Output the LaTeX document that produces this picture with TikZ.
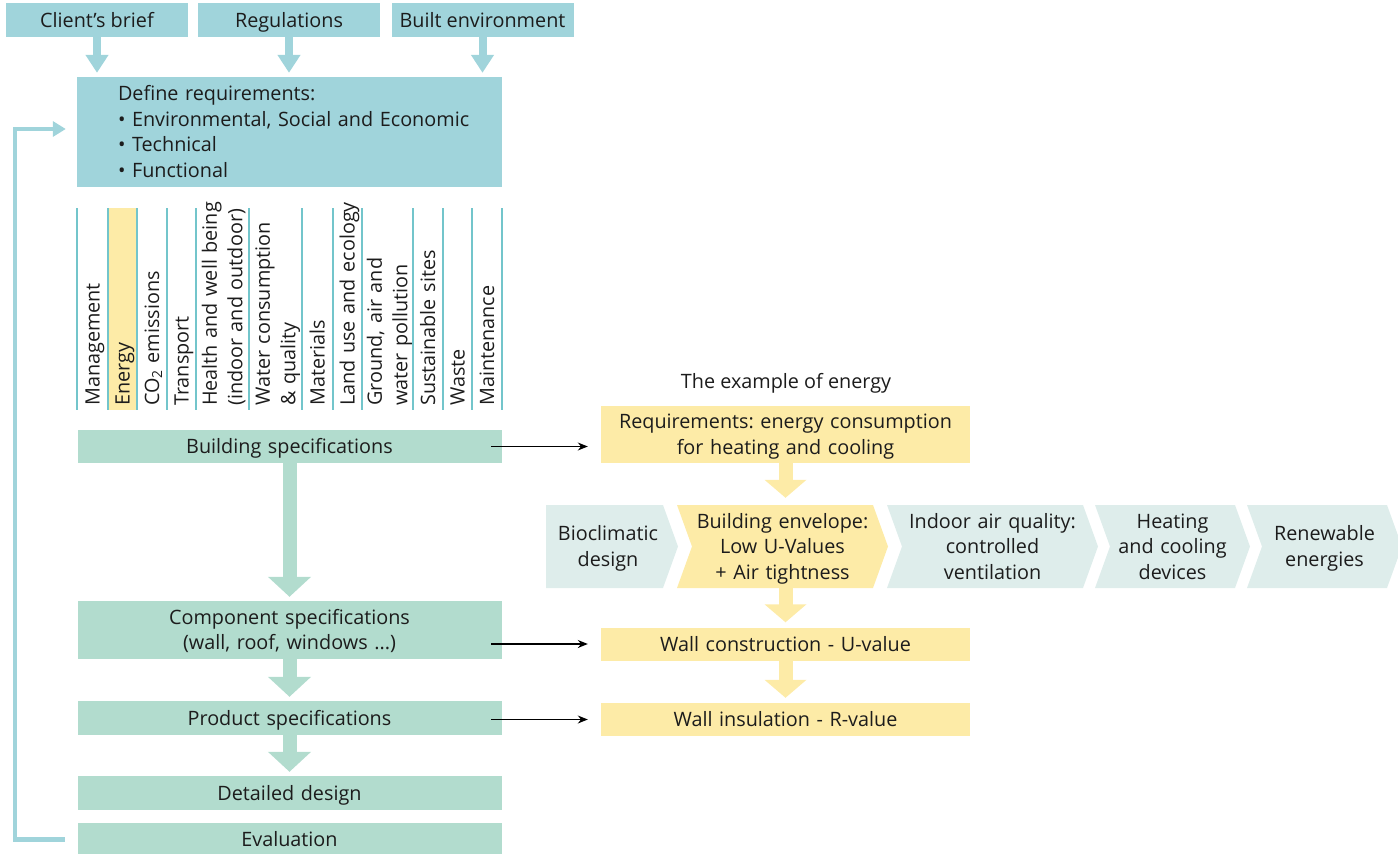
\documentclass[tikz,border=0pt]{standalone}
\usepackage{fontspec}
\setmainfont{Open Sans}
\frenchspacing
\usepackage{tikz}
\usetikzlibrary{arrows.meta}

\definecolor{srcblue}{RGB}{160,212,219}
\definecolor{specgreen}{RGB}{178,220,206}
\definecolor{energyyellow}{RGB}{253,235,167}
\definecolor{chevgrey}{RGB}{222,237,235}
\definecolor{colline}{RGB}{115,197,203}
\definecolor{inktext}{RGB}{28,28,28}

% same height and depth for every first and last line
\newcommand{\lnstrut}{\rule[-5pt]{0pt}{24pt}}

\tikzset{
  every node/.append style={execute at begin node=\lnstrut, execute at end node=\lnstrut},
  srcbox/.style={fill=srcblue, minimum width=182pt, minimum height=34pt, inner sep=0pt},
  specbox/.style={fill=specgreen, text width=424pt, minimum height=33pt, inner sep=0pt, align=center},
  ybox/.style={fill=energyyellow, text width=369pt, minimum height=33pt, inner sep=0pt, align=center},
  chevtext/.style={text width=190pt, align=center, minimum height=83pt, inner sep=0pt},
  collabel/.style={rotate=90, anchor=west, text width=260pt, align=left, inner sep=0pt},
  colrule/.style={draw=colline, line width=1.2pt},
  flowblue/.style={draw=srcblue, line width=8pt, -{Triangle[length=18pt,width=22pt]}},
  flowgreen/.style={draw=specgreen, line width=14pt, -{Triangle[length=20pt,width=42pt]}},
  flowyellow/.style={draw=energyyellow, line width=14pt, -{Triangle[length=18pt,width=41pt]}},
  loopback/.style={draw=srcblue, line width=4.5pt, -{Triangle[length=13pt,width=15pt]}},
  link/.style={draw=black, line width=1.2pt, -{Stealth[length=10pt,width=8pt]}},
}

\begin{document}
\begin{tikzpicture}[x=1pt, y=-1pt, text=inktext, font=\fontsize{19.8}{25.5}\selectfont]
    \useasboundingbox (0,0) rectangle (1398,854);

    % Inputs on top
    \node[srcbox] (brief) at (97,20) {Client's brief};
    \node[srcbox] (regs) at (289,20) {Regulations};
    \node[srcbox] (built) at (482.5,20) {Built environment};

    \node[fill=srcblue, inner xsep=41pt, inner ysep=0pt, text width=343pt, minimum height=110pt, align=left] (req) at (289.5,132)
        {Define requirements:\\\textbullet\ \mbox{Environmental, Social and Economic}\\\textbullet\ Technical\\\textbullet\ Functional};

    \foreach \src in {brief, regs, built}
        \draw[flowblue, shorten >=4pt] (\src.south) -- (\src.south |- req.north);

    % Criteria columns
    \fill[energyyellow] (108,208) rectangle (137,410);
    \foreach \x in {77,108,137,167,196,249,302,333,362,413,443,472,502}
        \draw[colrule] (\x,208) -- (\x,410);
    \foreach \x/\lbl [count=\i] in {92.5/Management, 122.5/Energy, 152/CO\textsubscript{2} emissions,
        181.5/Transport, 222.5/Health and well being\\(indoor and outdoor),
        275.5/Water consumption\\\& quality, 317.5/Materials, 347.5/Land use and ecology,
        387.5/{Ground, air and\\water pollution}, 428/Sustainable sites, 457.5/Waste, 487/Maintenance}
        \node[collabel] (col\i) at (\x,406) {\lbl};

    % Specification chain
    \node[specbox] (bspec) at (289.5,446.5) {Building specifications};
    \node[specbox, minimum height=58pt] (cspec) at (289.5,630) {Component specifications\\(wall, roof, windows ...)};
    \node[specbox, minimum height=34pt] (pspec) at (289.5,718) {Product specifications};
    \node[specbox, minimum height=34pt] (ddesign) at (289.5,793) {Detailed design};
    \node[specbox] (evalbox) at (289.5,839.5) {Evaluation};

    \draw[flowgreen, shorten >=4pt] (bspec.south) -- (cspec.north);
    \draw[flowgreen, shorten >=4pt] (cspec.south) -- (pspec.north);
    \draw[flowgreen, shorten >=4pt] (pspec.south) -- (ddesign.north);

    % Feedback to the requirements
    \draw[loopback] ([xshift=-12.5pt]evalbox.west) -- ++(-50,0) |- ([xshift=-11pt,yshift=3pt]req.west);

    % Energy example
    \node (exlabel) at (786,381) {The example of energy};
    \node[ybox, minimum height=57pt] (ereq) at (785.5,434.5) {Requirements: energy consumption\\for heating and cooling};
    \node[ybox] (wallc) at (785.5,644) {Wall construction - U-value};
    \node[ybox] (walli) at (785.5,719.5) {Wall insulation - R-value};

    \fill[chevgrey] (546,505) -- (663,505) -- (678,546.5) -- (663,588) -- (546,588) -- cycle;
    \foreach \l/\r/\c in {677/873/energyyellow, 887/1083/chevgrey, 1095/1235/chevgrey, 1247/1387/chevgrey}
        \fill[\c] (\l,505) -- (\r,505) -- (\r+15,546.5) -- (\r,588) -- (\l,588) -- (\l+15,546.5) -- cycle;

    \node[chevtext] (bio) at (608,546.5) {Bioclimatic\\design};
    \node[chevtext] (env) at (782.5,546.5) {Building envelope:\\Low U-Values\\+ Air tightness};
    \node[chevtext] (iaq) at (992.5,546.5) {Indoor air quality:\\controlled\\ventilation};
    \node[chevtext] (hvac) at (1172.5,546.5) {Heating\\and cooling\\devices};
    \node[chevtext] (renew) at (1324.5,546.5) {Renewable\\energies};

    \draw[flowyellow, shorten >=7pt] (ereq.south) -- (ereq.south |- env.north);
    \draw[flowyellow, shorten >=5pt] (env.south -| wallc.north) -- (wallc.north);
    \draw[flowyellow, shorten >=5pt] (wallc.south) -- (walli.north);

    % Links from the chain to the example
    \draw[link, shorten <=-10.5pt, shorten >=13pt] (bspec.east) -- (bspec.east -| ereq.west);
    \draw[link, shorten <=-10.5pt, shorten >=13pt] (cspec.east |- wallc.west) -- (wallc.west);
    \draw[link, shorten <=-10.5pt, shorten >=13pt] (pspec.east |- walli.west) -- (walli.west);
\end{tikzpicture}
\end{document}
